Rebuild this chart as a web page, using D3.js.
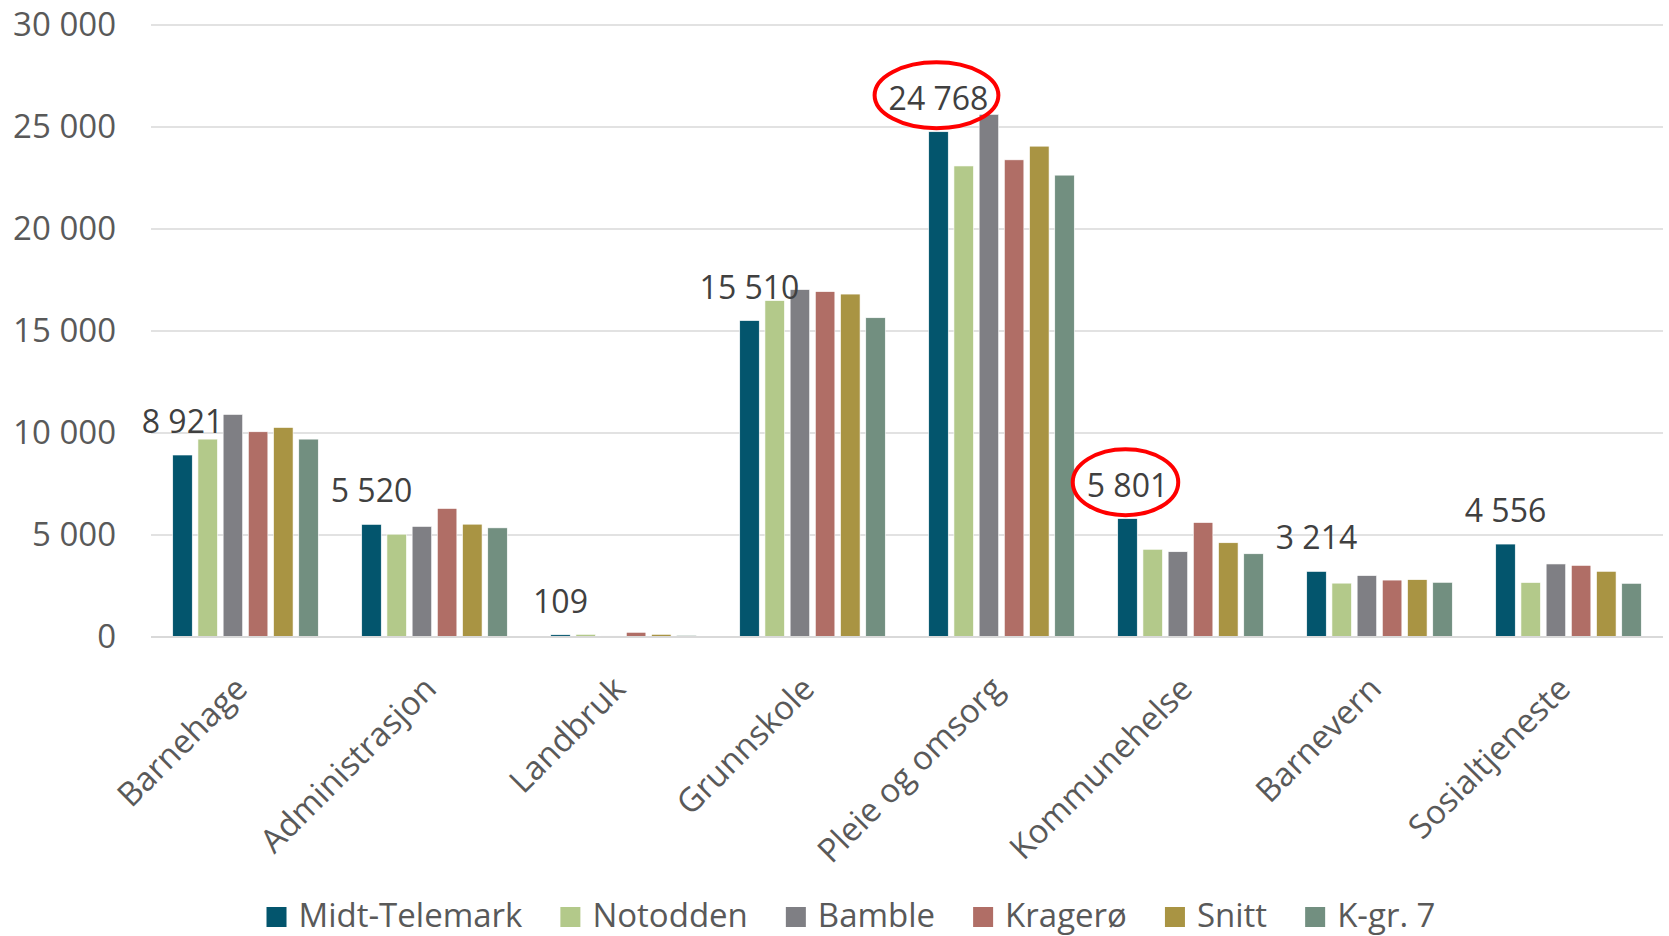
<!DOCTYPE html>
<html>
<head>
<meta charset="utf-8">
<script src="https://cdn.jsdelivr.net/npm/d3@7"></script>
<style>
  html, body { margin: 0; padding: 0; background: #fff; }
  svg { display: block; font-family: "Open Sans", sans-serif; }
</style>
</head>
<body>
<svg id="chart" width="1669" height="936"></svg>
<script>
const categories = ["Barnehage", "Administrasjon", "Landbruk", "Grunnskole", "Pleie og omsorg", "Kommunehelse", "Barnevern", "Sosialtjeneste"];
const seriesNames = ["Midt-Telemark", "Notodden", "Bamble", "Kragerø", "Snitt", "K-gr. 7"];
const seriesColors = ["#03556D", "#B3C98A", "#7F7F84", "#B06E66", "#A99443", "#728F80"];

const midtTelemark = [8921, 5520, 109, 15510, 24768, 5801, 3214, 4556];
const notodden     = [9700, 5040, 130, 16490, 23090, 4300, 2640, 2670];
const bamble       = [10910, 5420, 50, 17030, 25620, 4180, 3010, 3580];
const kragero      = [10060, 6300, 230, 16930, 23390, 5610, 2790, 3510];
const snitt        = [10270, 5530, 130, 16810, 24060, 4620, 2810, 3220];
const kgr7         = [9700, 5350, 80, 15650, 22640, 4080, 2680, 2630];
const seriesValues = [midtTelemark, notodden, bamble, kragero, snitt, kgr7];

const yTicks = [0, 5000, 10000, 15000, 20000, 25000, 30000];
const highlighted = [4, 5]; // category indices whose label is circled

(function () {
const fmt = v => d3.format(",")(v).replace(/,/g, " ");

const svg = d3.select("#chart");
const mLeft = 151, mRight = 1663, mTop = 25, mBottom = 637;

const x0 = d3.scaleBand().domain(categories).range([mLeft, mRight])
  .paddingInner(0.23).paddingOuter(0.115);
const x1 = d3.scaleBand().domain(seriesNames).range([0, x0.bandwidth()])
  .paddingInner(0.226).paddingOuter(0);
const y = d3.scaleLinear().domain([0, 30000]).range([mBottom, mTop]);

// gridlines
svg.append("g").selectAll("line").data(yTicks).join("line")
  .attr("x1", mLeft).attr("x2", mRight)
  .attr("y1", d => y(d)).attr("y2", d => y(d))
  .attr("stroke", "#d9d9d9").attr("stroke-width", 1.5);

// y axis labels
const yAxis = d3.axisLeft(y).tickValues(yTicks).tickFormat(fmt).tickSize(0).tickPadding(35);
const gy = svg.append("g").attr("transform", `translate(${mLeft},0)`).call(yAxis);
gy.select(".domain").remove();
gy.selectAll("text").attr("font-size", 33).attr("fill", "#595959")
  .attr("font-family", "'Open Sans', sans-serif");

// bars
const groups = svg.append("g").selectAll("g").data(categories).join("g")
  .attr("transform", d => `translate(${x0(d)},0)`);
groups.selectAll("rect").data((c, ci) => seriesNames.map((s, si) => ({s, si, v: seriesValues[si][ci]})))
  .join("rect")
  .attr("x", d => x1(d.s))
  .attr("width", x1.bandwidth())
  .attr("y", d => y(d.v))
  .attr("height", d => y(0) - y(d.v))
  .attr("fill", d => seriesColors[d.si])
  .attr("stroke", "#ffffff").attr("stroke-width", 0.6);

// baseline
svg.append("line").attr("x1", mLeft).attr("x2", mRight).attr("y1", y(0)).attr("y2", y(0))
  .attr("stroke", "#d9d9d9").attr("stroke-width", 2);

// data labels for Midt-Telemark
const labels = svg.append("g").selectAll("text").data(categories).join("text")
  .attr("x", (c) => x0(c) + x1(seriesNames[0]) + x1.bandwidth() / 2)
  .attr("y", (c, i) => y(midtTelemark[i]) - 22)
  .attr("text-anchor", "middle")
  .attr("font-size", 32)
  .attr("fill", "#404040")
  .text((c, i) => fmt(midtTelemark[i]));

// red ellipses
labels.each(function(c, i) {
  if (!highlighted.includes(i)) return;
  const b = this.getBBox();
  svg.append("ellipse")
    .attr("cx", b.x + b.width / 2 - 2)
    .attr("cy", b.y + b.height / 2 - 2)
    .attr("rx", b.width / 2 + 12)
    .attr("ry", 33)
    .attr("fill", "none")
    .attr("stroke", "#FF0000")
    .attr("stroke-width", 4);
});

// category labels
svg.append("g").selectAll("text").data(categories).join("text")
  .attr("transform", d => `translate(${x0(d) + x0.bandwidth() / 2 - 13},${mBottom + 37}) rotate(-45)`)
  .attr("text-anchor", "end")
  .attr("dy", "0.72em")
  .attr("font-size", 33)
  .attr("fill", "#595959")
  .text(d => d);

// legend
const legend = svg.append("g");
let lx = 0;
seriesNames.forEach((s, i) => {
  const g = legend.append("g");
  g.append("rect").attr("x", 0).attr("y", -20).attr("width", 20).attr("height", 20).attr("fill", seriesColors[i]);
  const t = g.append("text").attr("x", 32).attr("y", 0)
    .attr("font-size", 33).attr("fill", "#595959").text(s);
  const w = 32 + t.node().getComputedTextLength();
  g.attr("transform", `translate(${lx},0)`);
  lx += w + 38;
});
const totalW = lx - 38;
legend.attr("transform", `translate(${851 - totalW / 2},927)`);
})();
</script>
</body>
</html>
